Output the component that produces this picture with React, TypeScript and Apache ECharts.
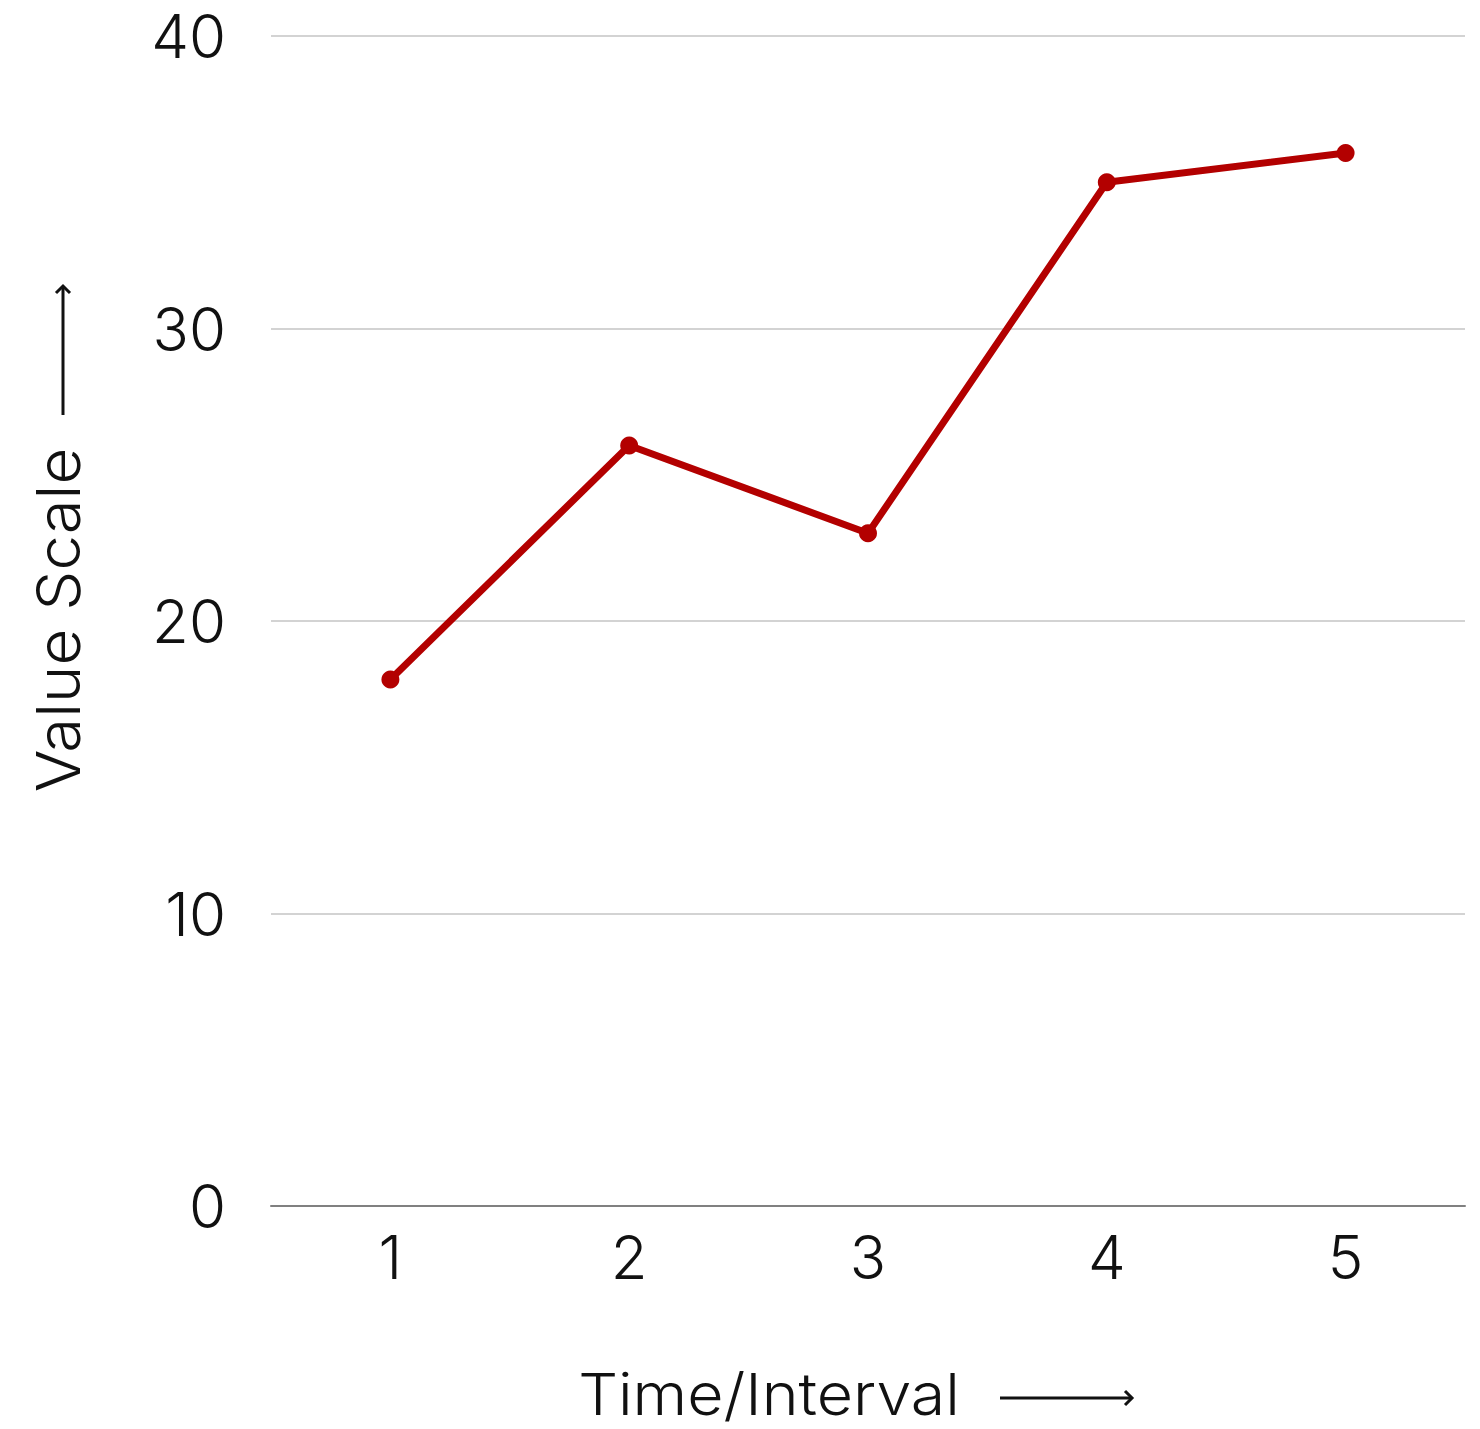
import React, { useEffect, useRef } from "react";
import * as echarts from "echarts";

const categories = ["1", "2", "3", "4", "5"];
const values = [18, 26, 23, 35, 36];
const yTicks = { min: 0, max: 40, interval: 10 };
const xTitle = "Time/Interval";
const yTitle = "Value Scale";

const FONT = "Inter";

export default function App() {
  const ref = useRef<HTMLDivElement>(null);
  useEffect(() => {
    document.body.style.margin = "0";
    const chart = echarts.init(ref.current!, null, { renderer: "svg" });
    const arrowStyle = { stroke: "#111111", lineWidth: 3, fill: "none" };
    chart.setOption({
      animation: false,
      backgroundColor: "#ffffff",
      grid: { left: 271, right: 15, top: 36, bottom: 223 },
      xAxis: {
        type: "category",
        data: categories,
        boundaryGap: true,
        axisLine: { show: true, lineStyle: { color: "#808080", width: 2 } },
        axisTick: { show: false },
        axisLabel: { color: "#111111", fontSize: 60, fontWeight: 300, fontFamily: FONT, margin: 21 },
      },
      yAxis: {
        type: "value",
        min: yTicks.min,
        max: yTicks.max,
        interval: yTicks.interval,
        axisLine: { show: false },
        axisTick: { show: false },
        splitLine: { lineStyle: { color: "#c4c4c4", width: 1.5 } },
        axisLabel: { color: "#111111", fontSize: 60, fontWeight: 300, fontFamily: FONT, margin: 45 },
      },
      graphic: [
        {
          type: "text",
          x: 769,
          y: 1394,
          scaleX: 1.08,
          style: {
            text: xTitle,
            fontSize: 58,
            lineHeight: 58,
            fontWeight: 300,
            fontFamily: FONT,
            fill: "#111111",
            align: "center",
            verticalAlign: "middle",
          },
        },
        {
          type: "line",
          shape: { x1: 1000, y1: 1398, x2: 1132, y2: 1398 },
          style: arrowStyle,
        },
        {
          type: "polyline",
          shape: { points: [[1125, 1391], [1132, 1398], [1125, 1405]] },
          style: arrowStyle,
        },
        {
          type: "text",
          x: 58,
          y: 620,
          rotation: Math.PI / 2,
          scaleX: 1.06,
          style: {
            text: yTitle,
            fontSize: 60,
            lineHeight: 60,
            fontWeight: 300,
            fontFamily: FONT,
            fill: "#111111",
            align: "center",
            verticalAlign: "middle",
          },
        },
        {
          type: "line",
          shape: { x1: 63, y1: 415, x2: 63, y2: 286 },
          style: arrowStyle,
        },
        {
          type: "polyline",
          shape: { points: [[56, 293], [63, 286], [70, 293]] },
          style: arrowStyle,
        },
      ],
      series: [
        {
          type: "line",
          data: values,
          symbol: "circle",
          symbolSize: 18,
          lineStyle: { color: "#b30000", width: 7 },
          itemStyle: { color: "#b30000" },
        },
      ],
    });
    return () => chart.dispose();
  }, []);
  return <div ref={ref} style={{ width: 1480, height: 1429 }} />;
}
